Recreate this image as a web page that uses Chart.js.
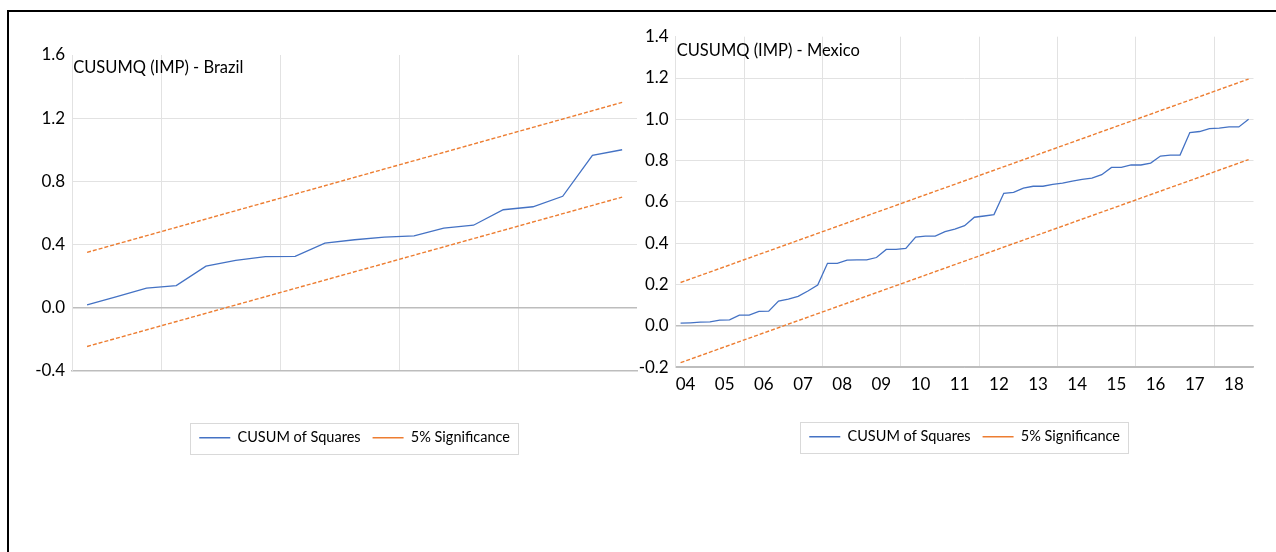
<!DOCTYPE html>
<html>
<head>
<meta charset="utf-8">
<script src="https://cdn.jsdelivr.net/npm/chart.js@4.4.0/dist/chart.umd.min.js"></script>
<style>
  html, body { margin: 0; padding: 0; background: #fff; overflow: hidden; }
  #marco { position: absolute; left: 7px; top: 10px; width: 1275px; height: 548px; border-top: 2px solid #000; border-left: 2px solid #000; z-index: 5; pointer-events: none; }
  #c1 { position: absolute; left: 0; top: 0; }
  #c2 { position: absolute; left: 630px; top: 0; }
</style>
</head>
<body>
<div id="marco"></div>
<canvas id="c1" width="640" height="552"></canvas>
<canvas id="c2" width="646" height="552"></canvas>
<script>
// Brazil: 19 observaciones
const brazilCusum = [0.017, 0.070, 0.123, 0.140, 0.263, 0.300, 0.323, 0.325, 0.408, 0.430,
  0.446, 0.454, 0.503, 0.522, 0.620, 0.639, 0.705, 0.964, 1.000];
const brazilUpper = [0.350, 1.300];   // banda 5% (inicio, fin)
const brazilLower = [-0.246, 0.700];
const brazilYTicks = [-0.4, 0.0, 0.4, 0.8, 1.2, 1.6];
const brazilGridX = [2.5, 6.5, 10.5, 14.5];

// Mexico: 59 observaciones trimestrales
const mexicoCusum = [0.013, 0.015, 0.018, 0.019, 0.028, 0.029, 0.052, 0.052, 0.070, 0.071,
  0.120, 0.130, 0.143, 0.169, 0.198, 0.303, 0.303, 0.318, 0.320, 0.320,
  0.331, 0.370, 0.370, 0.375, 0.430, 0.435, 0.435, 0.456, 0.469, 0.485,
  0.526, 0.532, 0.539, 0.642, 0.646, 0.667, 0.676, 0.676, 0.685, 0.691,
  0.701, 0.709, 0.715, 0.732, 0.767, 0.767, 0.779, 0.779, 0.788, 0.822,
  0.827, 0.827, 0.936, 0.941, 0.955, 0.957, 0.963, 0.963, 1.000];
const mexicoUpper = [0.210, 1.195];
const mexicoLower = [-0.178, 0.805];
const mexicoYTicks = [-0.2, 0.0, 0.2, 0.4, 0.6, 0.8, 1.0, 1.2, 1.4];
const mexicoYears = ["04", "05", "06", "07", "08", "09", "10", "11", "12", "13", "14", "15", "16", "17", "18"];
const mexicoYearPos = [0.5, 4.5, 8.5, 12.5, 16.5, 20.5, 24.5, 28.5, 32.5, 36.5, 40.5, 44.5, 48.5, 52.5, 56.5];
const mexicoGridX = [6.5, 14.5, 22.5, 30.5, 38.5, 46.5, 54.5];

const azul = "#4472C4";
const naranja = "#ED7D31";
const grisClaro = "#e2e2e2";
const grisEje = "#bdbdbd";
const fuente = "Lato, Carlito, Calibri, sans-serif";

// Texto del titulo dentro del area del grafico
const tituloInterno = {
  id: "tituloInterno",
  afterDatasetsDraw(chart, args, opts) {
    const ctx = chart.ctx;
    const a = chart.chartArea;
    ctx.save();
    ctx.font = "16.5px " + fuente;
    ctx.fillStyle = "#000";
    ctx.textBaseline = "middle";
    ctx.fillText(opts.text, a.left + 1, a.top + opts.dy);
    ctx.restore();
  }
};

// Recuadro alrededor de la leyenda
const bordeLeyenda = {
  id: "bordeLeyenda",
  afterDraw(chart) {
    const boxes = chart.legend.legendHitBoxes;
    if (!boxes || !boxes.length) return;
    const x1 = Math.min(...boxes.map(b => b.left)) - 9;
    const x2 = Math.max(...boxes.map(b => b.left + b.width)) + 8;
    const y1 = boxes[0].top - 8;
    const y2 = boxes[0].top + boxes[0].height + 8;
    const ctx = chart.ctx;
    ctx.save();
    ctx.strokeStyle = "#d9d9d9";
    ctx.lineWidth = 1;
    ctx.strokeRect(Math.round(x1) + 0.5, Math.round(y1) + 0.5, Math.round(x2 - x1), Math.round(y2 - y1));
    ctx.restore();
  }
};

function crearGrafica(id, cfg) {
  const n = cfg.cusum.length;
  const xTicks = cfg.labelPos.concat(cfg.gridX).sort((a, b) => a - b);
  const ymin = cfg.yTicks[0];
  const ymax = cfg.yTicks[cfg.yTicks.length - 1];

  return new Chart(document.getElementById(id), {
    type: "line",
    data: {
      datasets: [{
        label: "CUSUM of Squares",
        data: cfg.cusum.map((v, i) => ({ x: i, y: v })),
        borderColor: azul,
        borderWidth: 1.3,
        pointRadius: 0,
        tension: 0,
      }, {
        label: "5% Significance",
        data: [{ x: 0, y: cfg.upper[0] }, { x: n - 1, y: cfg.upper[1] }],
        borderColor: naranja,
        borderWidth: 1.4,
        borderDash: [4, 2],
        pointRadius: 0,
      }, {
        label: "5% Significance (inf)",
        data: [{ x: 0, y: cfg.lower[0] }, { x: n - 1, y: cfg.lower[1] }],
        borderColor: naranja,
        borderWidth: 1.4,
        borderDash: [4, 2],
        pointRadius: 0,
      }],
    },
    options: {
      responsive: false,
      animation: false,
      layout: { padding: cfg.padding },
      plugins: {
        tooltip: { enabled: false },
        tituloInterno: { text: cfg.title, dy: cfg.titleDy },
        legend: {
          position: "bottom",
          fullSize: false,
          labels: {
            filter: item => item.datasetIndex < 2,
            usePointStyle: true,
            pointStyle: "line",
            pointStyleWidth: 31,
            padding: 12,
            color: "#000",
            font: { family: fuente, size: 14.5 },
          },
        },
      },
      scales: {
        x: {
          type: "linear",
          min: -0.5,
          max: n - 0.5,
          afterBuildTicks: s => { s.ticks = xTicks.map(v => ({ value: v })); },
          afterFit: s => { s.height = cfg.xHeight; },
          ticks: {
            display: cfg.showLabels,
            autoSkip: false,
            maxRotation: 0,
            padding: 7,
            color: "#000",
            font: { family: fuente, size: 17 },
            callback: v => {
              const k = cfg.labelPos.indexOf(v);
              return k >= 0 ? cfg.labels[k] : "";
            },
          },
          grid: {
            drawTicks: false,
            color: c => (c.tick && cfg.gridX.includes(c.tick.value)) ? grisClaro : "transparent",
          },
          border: { display: true, color: grisEje, width: 1.5 },
        },
        y: {
          min: ymin,
          max: ymax,
          afterBuildTicks: s => { s.ticks = cfg.yTicks.map(v => ({ value: v })); },
          afterFit: s => { s.width = cfg.yWidth; },
          ticks: {
            padding: 7,
            color: "#000",
            font: { family: fuente, size: 17 },
            callback: v => v.toFixed(1),
          },
          grid: {
            drawTicks: false,
            lineWidth: c => (c.tick && Math.abs(c.tick.value) < 1e-9) ? 1.5 : 1,
            color: c => {
              if (!c.tick) return grisClaro;
              const v = c.tick.value;
              if (Math.abs(v - ymax) < 1e-9) return "transparent";
              if (Math.abs(v) < 1e-9 || Math.abs(v - ymin) < 1e-9) return grisEje;
              return grisClaro;
            },
          },
          border: { display: true, color: grisClaro },
        },
      },
    },
    plugins: [tituloInterno, bordeLeyenda],
  });
}

crearGrafica("c1", {
  cusum: brazilCusum, upper: brazilUpper, lower: brazilLower,
  yTicks: brazilYTicks, gridX: brazilGridX, labelPos: [], labels: [],
  showLabels: false, title: "CUSUMQ (IMP) - Brazil", titleDy: 13,
  padding: { top: 55, right: 3, bottom: 97, left: 0 }, yWidth: 72.2, xHeight: 47.7,
});

crearGrafica("c2", {
  cusum: mexicoCusum, upper: mexicoUpper, lower: mexicoLower,
  yTicks: mexicoYTicks, gridX: mexicoGridX, labelPos: mexicoYearPos, labels: mexicoYears,
  showLabels: true, title: "CUSUMQ (IMP) - Mexico", titleDy: 14,
  padding: { top: 36.7, right: 22.5, bottom: 98, left: 0 }, yWidth: 45.7, xHeight: 50.3,
});
</script>
</body>
</html>
